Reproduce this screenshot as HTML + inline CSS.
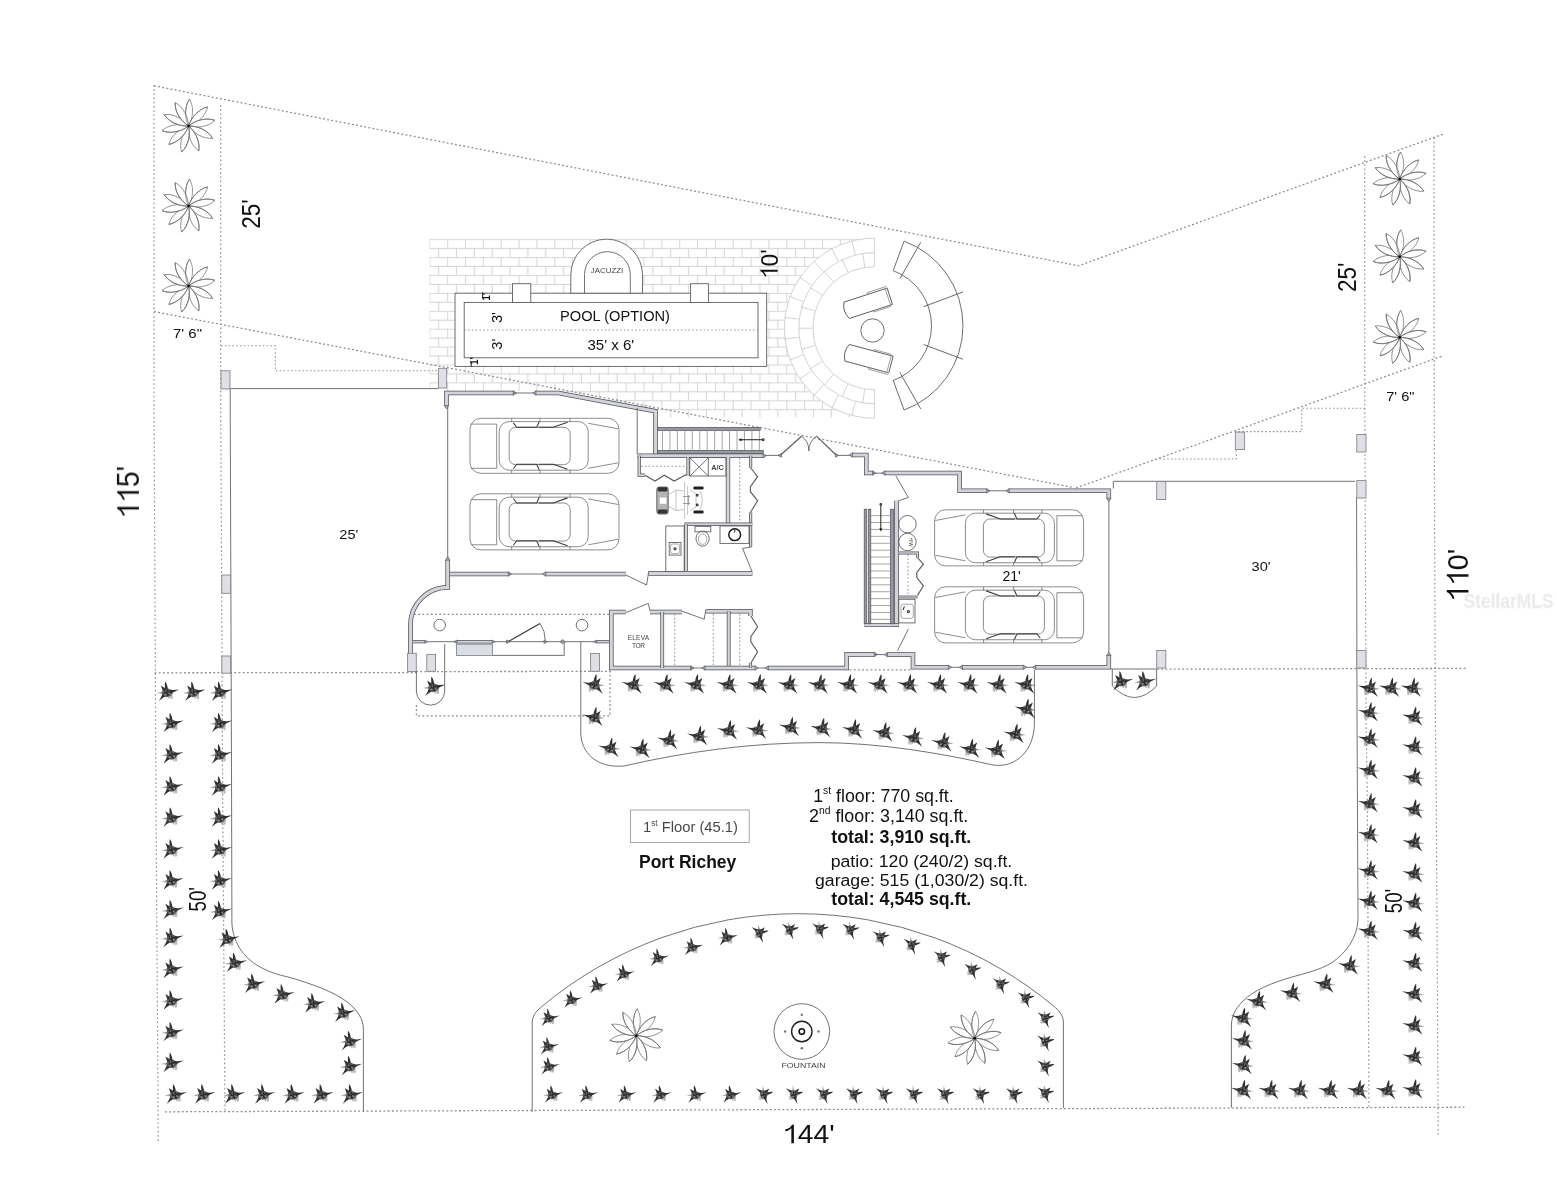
<!DOCTYPE html>
<html><head><meta charset="utf-8"><title>Port Richey - 1st Floor Site Plan</title>
<style>
html,body{margin:0;padding:0;background:#fff;}
body{width:1557px;height:1200px;overflow:hidden;font-family:"Liberation Sans",sans-serif;}
svg{display:block;font-family:"Liberation Sans",sans-serif;}
.dot{fill:none;stroke:#8c8c8c;stroke-width:1.28;stroke-dasharray:1.9 2.3;}
.dotv{fill:none;stroke:#979797;stroke-width:1.2;stroke-dasharray:1.7 2.5;}
.dot2{fill:none;stroke:#939393;stroke-width:1.05;stroke-dasharray:1.6 2.2;}
.ln{fill:none;stroke:#626262;stroke-width:.9;}
.lnw{fill:#fff;stroke:#5e5e5e;stroke-width:.9;}
.lnl{fill:none;stroke:#8f8f8f;stroke-width:.8;}
.lnd{fill:none;stroke:#333;stroke-width:1.1;}
.lnb{fill:none;stroke:#5c5c5c;stroke-width:1.15;}
.car{fill:none;stroke:#707070;stroke-width:.8;}
.carw{fill:#fff;stroke:#707070;stroke-width:.8;}
.card{fill:none;stroke:#3a3a3a;stroke-width:1.05;}
.br{fill:none;stroke:#c6c6c6;stroke-width:.78;}
.wd{fill:none;stroke:#50525a;stroke-linecap:butt;stroke-linejoin:miter;}
.wl{fill:none;stroke:#d2d4da;stroke-linecap:butt;stroke-linejoin:miter;}
.tip{fill:#a9abb2;stroke:#5a5d66;stroke-width:.7;}
.col{fill:#dfe0e6;stroke:#85878f;stroke-width:.9;}
.gf{fill:#dadde4;stroke:#7a7d86;stroke-width:.8;}
.t{fill:#111;}
.tg{fill:#444;}
.tb{fill:#111;font-weight:bold;}
.pet{fill:#fff;stroke:#6c6c6c;stroke-width:.68;}
.white{fill:#fff;stroke:none;}
.rail{fill:#96989f;stroke:#4d4f57;stroke-width:.7;}
.brk{stroke:none;}
</style></head><body>
<svg width="1557" height="1200" viewBox="0 0 1557 1200">
<rect x="0" y="0" width="1557" height="1200" fill="#fff"/>
<g style="filter:blur(.4px)">
<defs>
<g id="pl" opacity=".9">
<path d="M0.9,2.4 L5.8,1.2 L5.6,6 L3.8,6.9 L3.2,4.4 L2.2,6.7 L1,5.6 Z" fill="#a2a2a2" opacity=".85"/>
<path d="M-4.8,-0.9 L-10.3,0.5 L-4.8,1.5 Z" fill="#808080" opacity=".75"/>
<path d="M-3.8,-3.2 L1.4,-3.9 L4.8,-2.2 L5.4,0.9 L3.4,3.7 L-0.6,4.8 L-4.5,3.2 L-5.2,0 Z" fill="#4e4e4e"/>
<path d="M-2,-3.2 C-1.9,-6 -2.5,-8.6 -1.8,-10.9 C-0.4,-9 0.5,-6.4 0.9,-3.4 Z" fill="#1c1c1c"/>
<path d="M-1,-3.7 L-6.2,-6.9 L-4.2,-1.6 Z" fill="#1c1c1c"/>
<path d="M2.6,-2.6 L6.6,-2.3 L12,-3 L7,-0.5 L3.7,1.3 Z" fill="#1c1c1c"/>
<path d="M-4.6,1.6 L-6,4.8 L-8.2,8.7 L-4.7,5.9 L-1.7,4.1 Z" fill="#1c1c1c"/>
<path d="M-2.6,0.4 L2.8,-1 M0.2,-2.6 L0.8,3.2 M-2.6,-2 L1.4,2.4" stroke="#141414" stroke-width="1.3" fill="none" stroke-linecap="round"/>
<path d="M-1.6,-1.4 L-0.8,-0.6 M1.8,0.8 L2.6,1.8 M-2.2,2.2 L-1.2,2" stroke="#d0d0d0" stroke-width=".7" fill="none"/>
</g>
<g id="star"><path d="M0,0 C8,-4.2 19,-5 27,0 C19,5 8,4.2 0,0 Z" class="pet" transform="rotate(-88)"/><path d="M0,0 C8,-4.2 19,-5 27,0 C19,5 8,4.2 0,0 Z" class="pet" transform="rotate(-45)"/><path d="M0,0 C8,-4.2 19,-5 27,0 C19,5 8,4.2 0,0 Z" class="pet" transform="rotate(-12)"/><path d="M0,0 C8,-4.2 19,-5 27,0 C19,5 8,4.2 0,0 Z" class="pet" transform="rotate(27)"/><path d="M0,0 C8,-4.2 19,-5 27,0 C19,5 8,4.2 0,0 Z" class="pet" transform="rotate(68)"/><path d="M0,0 C8,-4.2 19,-5 27,0 C19,5 8,4.2 0,0 Z" class="pet" transform="rotate(105)"/><path d="M0,0 C8,-4.2 19,-5 27,0 C19,5 8,4.2 0,0 Z" class="pet" transform="rotate(137)"/><path d="M0,0 C8,-4.2 19,-5 27,0 C19,5 8,4.2 0,0 Z" class="pet" transform="rotate(170)"/><path d="M0,0 C8,-4.2 19,-5 27,0 C19,5 8,4.2 0,0 Z" class="pet" transform="rotate(-155)"/><path d="M0,0 C8,-4.2 19,-5 27,0 C19,5 8,4.2 0,0 Z" class="pet" transform="rotate(-120)"/><path d="M0,0 C8,-4.2 19,-5 27,0" class="pet" style="fill:none" transform="rotate(-88)"/><path d="M0,0 C8,-4.2 19,-5 27,0" class="pet" style="fill:none" transform="rotate(-45)"/><path d="M0,0 C8,-4.2 19,-5 27,0" class="pet" style="fill:none" transform="rotate(-12)"/><path d="M0,0 C8,-4.2 19,-5 27,0" class="pet" style="fill:none" transform="rotate(27)"/><path d="M0,0 C8,-4.2 19,-5 27,0" class="pet" style="fill:none" transform="rotate(68)"/><path d="M0,0 C8,-4.2 19,-5 27,0" class="pet" style="fill:none" transform="rotate(105)"/><path d="M0,0 C8,-4.2 19,-5 27,0" class="pet" style="fill:none" transform="rotate(137)"/><path d="M0,0 C8,-4.2 19,-5 27,0" class="pet" style="fill:none" transform="rotate(170)"/><path d="M0,0 C8,-4.2 19,-5 27,0" class="pet" style="fill:none" transform="rotate(-155)"/><path d="M0,0 C8,-4.2 19,-5 27,0" class="pet" style="fill:none" transform="rotate(-120)"/><circle cx="0" cy="0" r="1.3" fill="#000"/></g>
<g id="car">
<rect x="0" y="0" width="149" height="55" rx="11" ry="11" class="carw"/>
<path d="M0.8,5.8 H26.7 V50 H0.8" class="car"/>
<rect x="29.2" y="3.3" width="89" height="48.6" rx="10" ry="10" class="car"/>
<rect x="39.2" y="9" width="61" height="37.4" rx="6.5" ry="6.5" class="car"/>
<path d="M118.3,5 L148.3,10.5 M118.3,50 L148.3,44.5" class="car"/>
<path d="M41.7,0 V3.6 M70,0 V3.6 M100,0 V3.6 M41.7,55 V51.4 M70,55 V51.4 M100,55 V51.4" class="car"/>
<path d="M43.3,4.6 L46.7,9 H66.7 L69.2,3.4 M68.6,9 H83.3 L97.5,4" class="card"/>
<path d="M43.3,50.4 L46.7,46 H66.7 L69.2,51.6 M68.6,46 H83.3 L97.5,51" class="card"/>
</g>
<pattern id="brick" x="429.3" y="239.2" width="17.85" height="17.9" patternUnits="userSpaceOnUse">
<path d="M0,0.4 H17.85 M0,9.35 H17.85 M0.4,0 V9.35 M9.3,9.35 V17.9" class="br"/>
</pattern>
<clipPath id="brickclip"><path d="M429.3,238.8 H874.4 V417.6 H657.6 V410 L558,391 H446.6 V388.4 H429.3 Z"/></clipPath>
</defs>
<g clip-path="url(#brickclip)">
<rect x="429.3" y="238.8" width="445.1" height="179" class="brk" fill="url(#brick)"/>
</g>
<path d="M874.4,238.2 A90,90 0 0 0 874.4,418.2 Z" class="white"/>
<path d="M874.4,238.2 A90,90 0 0 0 874.4,418.2" class="br"/>
<path d="M874.4,252.7 A75.5,75.5 0 0 0 874.4,403.7" class="br"/>
<path d="M874.4,266.7 A61.5,61.5 0 0 0 874.4,389.7" class="br"/>
<line x1="874.4" y1="238.2" x2="874.4" y2="266.7" class="br"/>
<line x1="874.4" y1="418.2" x2="874.4" y2="389.7" class="br"/>
<line x1="855.43" y1="401.51" x2="851.96" y2="415.58" class="br"/>
<line x1="838.41" y1="395.05" x2="831.67" y2="407.89" class="br"/>
<line x1="823.43" y1="384.71" x2="813.82" y2="395.57" class="br"/>
<line x1="811.36" y1="371.09" x2="799.43" y2="379.33" class="br"/>
<line x1="802.91" y1="354.97" x2="789.35" y2="360.11" class="br"/>
<line x1="798.55" y1="337.3" x2="784.16" y2="339.05" class="br"/>
<line x1="798.55" y1="319.1" x2="784.16" y2="317.35" class="br"/>
<line x1="802.91" y1="301.43" x2="789.35" y2="296.29" class="br"/>
<line x1="811.36" y1="285.31" x2="799.43" y2="277.07" class="br"/>
<line x1="823.43" y1="271.69" x2="813.82" y2="260.83" class="br"/>
<line x1="838.41" y1="261.35" x2="831.67" y2="248.51" class="br"/>
<line x1="855.43" y1="254.89" x2="851.96" y2="240.82" class="br"/>
<line x1="864.75" y1="389.07" x2="862.76" y2="402.93" class="br"/>
<line x1="847.95" y1="384.14" x2="842.14" y2="396.88" class="br"/>
<line x1="833.23" y1="374.68" x2="824.06" y2="385.26" class="br"/>
<line x1="821.76" y1="361.45" x2="809.99" y2="369.02" class="br"/>
<line x1="814.49" y1="345.53" x2="801.06" y2="349.47" class="br"/>
<line x1="812" y1="328.2" x2="798" y2="328.2" class="br"/>
<line x1="814.49" y1="310.87" x2="801.06" y2="306.93" class="br"/>
<line x1="821.76" y1="294.95" x2="809.99" y2="287.38" class="br"/>
<line x1="833.23" y1="281.72" x2="824.06" y2="271.14" class="br"/>
<line x1="847.95" y1="272.26" x2="842.14" y2="259.52" class="br"/>
<line x1="864.75" y1="267.33" x2="862.76" y2="253.47" class="br"/>
<rect x="455" y="293.2" width="311.7" height="73.2" class="lnw" />
<rect x="464.2" y="302.4" width="293.8" height="55.4" class="lnw" />
<line x1="464.2" y1="330" x2="758" y2="330" class="dot2"/>
<rect x="512.5" y="283.7" width="18.3" height="18.8" class="lnw" />
<rect x="690.6" y="283.7" width="17.8" height="18.8" class="lnw" />
<path d="M570.8,293.2 V275 A35.85,35.85 0 0 1 642.5,275 V293.2 Z" class="lnw"/>
<path d="M584.5,293.2 V274.6 A22.9,22.9 0 0 1 630.3,274.6 V293.2" class="ln"/>
<circle cx="872.5" cy="330.5" r="11.7" class="lnw"/>
<path d="M904.08,241.14 A90,90 0 0 1 904.08,410.06 L893.2,380.5 A58.5,58.5 0 0 0 893.2,270.7 Z" class="lnw"/>
<line x1="899.84" y1="278.74" x2="920.71" y2="242.29" class="lnd" style="stroke-width:.8;stroke:#444"/>
<line x1="923.58" y1="306.69" x2="962.92" y2="291.98" class="lnd" style="stroke-width:.8;stroke:#444"/>
<line x1="923.58" y1="344.51" x2="962.92" y2="359.22" class="lnd" style="stroke-width:.8;stroke:#444"/>
<line x1="899.84" y1="372.46" x2="920.71" y2="408.91" class="lnd" style="stroke-width:.8;stroke:#444"/>
<g transform="translate(866.6,303.8) rotate(-18) scale(1,1)">
<path d="M-21,-8.6 H24.4 V8.6 H-21 Q-25.5,0 -21,-8.6 Z" class="lnw"/>
<path d="M4,-8.6 V-10.4 H24.4 M24.4,-8.6 H22.4 V8.6 M4,8.6 V10 H22.4" class="lnl"/>
</g>
<g transform="translate(867.4,358.2) rotate(15) scale(1,-1)">
<path d="M-21,-8.6 H24.4 V8.6 H-21 Q-25.5,0 -21,-8.6 Z" class="lnw"/>
<path d="M4,-8.6 V-10.4 H24.4 M24.4,-8.6 H22.4 V8.6 M4,8.6 V10 H22.4" class="lnl"/>
</g>
<path d="M154,85.8 L1078.5,265.8 L1443.5,134" class="dot"/>
<path d="M154,311.6 L1073,487.4" class="dot"/>
<path d="M1076,488 L1443,355.8" class="dot"/>
<path d="M154,85 L154,400 L156,800 L158.3,1142" class="dotv"/>
<path d="M220.7,105 L220.7,400 L222.7,800 L225,1111.5" class="dotv"/>
<path d="M1364.7,156 L1364.8,400 L1366,712 L1367.3,800 L1369,1107.4" class="dotv"/>
<path d="M1434,137.5 L1434.2,400 L1435.3,712 L1436.3,800 L1438.2,1137" class="dotv"/>
<path d="M154.5,672.8 L416,672.5" class="dot"/>
<path d="M416,671.6 L611,671.4" class="dot"/>
<path d="M1157,669.2 L1466,668.4" class="dot"/>
<path d="M165,1111.8 L1464.5,1107.2" class="dot"/>
<path d="M221,345.8 L275.3,345.8 L275.3,370.7 L440,370.7" class="dot2"/>
<path d="M1365,408.2 L1301.8,408.2 L1301.8,431.6 L1236.3,431.6 L1236.3,459 L1158,459" class="dot2"/>
<path d="M414,614.3 L609,614.3" class="dot"/>
<path d="M416.4,705 L416.4,715.8 L610,715.8 L610,672" class="dot"/>
<path d="M849.5,669.9 L910.5,669.9" class="dot"/>
<line x1="230.3" y1="388.6" x2="438.3" y2="388.6" class="ln"/>
<path d="M230.2,389 L230.2,400 L231.6,800 L231.9,923.3" class="ln"/>
<line x1="1113.5" y1="481.3" x2="1355" y2="481.3" class="ln"/>
<path d="M1356.6,497 L1357,712 L1358,920" class="ln"/>
<line x1="1111" y1="669" x2="1156.5" y2="669" class="ln"/>
<line x1="447.7" y1="405.5" x2="447.7" y2="560.5" class="ln"/>
<line x1="1108.9" y1="498.5" x2="1108.9" y2="654.5" class="ln"/>
<rect x="221" y="370.8" width="9" height="18.2" class="col" />
<rect x="438.4" y="368.3" width="8.3" height="19.7" class="col" />
<rect x="221.8" y="575" width="8.8" height="18.3" class="col" />
<rect x="221.8" y="656" width="8.8" height="17.2" class="col" />
<rect x="407.6" y="653.3" width="8.7" height="18.2" class="col" />
<rect x="426.8" y="654.4" width="8.7" height="16.9" class="col" />
<rect x="590.6" y="653.4" width="8.9" height="17.9" class="col" />
<rect x="1235.3" y="432.1" width="9.3" height="17.4" class="col" />
<rect x="1356.8" y="434.5" width="9.2" height="17.5" class="col" />
<rect x="1156.7" y="481.6" width="9.1" height="17.9" class="col" />
<rect x="1356.8" y="480.6" width="9.2" height="17.4" class="col" />
<rect x="1156.7" y="650.5" width="9.1" height="17.5" class="col" />
<rect x="1356.8" y="650.5" width="9.2" height="17.5" class="col" />
<line x1="1113.3" y1="481.3" x2="1113.3" y2="488.5" class="ln"/>
<path d="M416.4,671.5 V691 A14.15,14.15 0 0 0 444.7,691 V644.2" class="ln"/>
<path d="M1112.3,669 V686 Q1134.5,709 1156.6,686 V669" class="ln"/>
<path d="M446.5,405.6 L446.5,393 L513.3,393" class="wd" stroke-width="4.6"/>
<path d="M446.5,405.6 L446.5,393 L513.3,393" class="wl" stroke-width="3.1"/>
<polygon points="444.2,405.6 446.5,408.8 448.8,405.6" class="tip"/>
<polygon points="513.3,395.3 516.5,393 513.3,390.7" class="tip"/>
<line x1="513" y1="393" x2="535" y2="393" class="ln"/>
<path d="M536,393 L558.3,393 L655.5,411.2 L655.5,455.8" class="wd" stroke-width="4.6"/>
<path d="M536,393 L558.3,393 L655.5,411.2 L655.5,455.8" class="wl" stroke-width="3.1"/>
<polygon points="536,390.7 532.8,393 536,395.3" class="tip"/>
<line x1="637.2" y1="408" x2="637.2" y2="454" class="ln"/>
<path d="M637.5,455.8 L763,455.8" class="wd" stroke-width="4.4"/>
<path d="M637.5,455.8 L763,455.8" class="wl" stroke-width="2.9"/>
<polygon points="763,458 766.2,455.8 763,453.6" class="tip"/>
<path d="M639.2,455.8 L639.2,475.2 L645,475.2" class="wd" stroke-width="3.2"/>
<path d="M639.2,455.8 L639.2,475.2 L645,475.2" class="wl" stroke-width="1.7"/>
<path d="M688,457 L688,476" class="wd" stroke-width="3.2"/>
<path d="M688,457 L688,476" class="wl" stroke-width="1.7"/>
<path d="M728,457 L728,524" class="wd" stroke-width="4.4"/>
<path d="M728,457 L728,524" class="wl" stroke-width="2.9"/>
<path d="M750.6,455.8 L750.6,467.5" class="wd" stroke-width="3.2"/>
<path d="M750.6,455.8 L750.6,467.5" class="wl" stroke-width="1.7"/>
<path d="M750.6,512.5 L750.6,547" class="wd" stroke-width="3.2"/>
<path d="M750.6,512.5 L750.6,547" class="wl" stroke-width="1.7"/>
<path d="M684.2,524.2 L752.2,524.2" class="wd" stroke-width="3.6"/>
<path d="M684.2,524.2 L752.2,524.2" class="wl" stroke-width="2.1"/>
<path d="M686,524.2 L686,573" class="wd" stroke-width="3.6"/>
<path d="M686,524.2 L686,573" class="wl" stroke-width="2.1"/>
<path d="M447.7,574 L508.3,574" class="wd" stroke-width="4.7"/>
<path d="M447.7,574 L508.3,574" class="wl" stroke-width="3.2"/>
<polygon points="508.3,576.35 511.5,574 508.3,571.65" class="tip"/>
<line x1="508" y1="574" x2="546" y2="574" class="ln"/>
<path d="M545.8,574 L625.8,574" class="wd" stroke-width="4.7"/>
<path d="M545.8,574 L625.8,574" class="wl" stroke-width="3.2"/>
<polygon points="545.8,571.65 542.6,574 545.8,576.35" class="tip"/>
<path d="M648.3,573.4 L752.4,573.4" class="wd" stroke-width="4.7"/>
<path d="M648.3,573.4 L752.4,573.4" class="wl" stroke-width="3.2"/>
<path d="M447.7,560 V587.4 A37.2,37.2 0 0 0 410.5,624.6 V653.3" class="wd" stroke-width="4.7"/>
<path d="M447.7,560 V587.4 A37.2,37.2 0 0 0 410.5,624.6 V653.3" class="wl" stroke-width="3.2"/>
<polygon points="445.5,560.2 447.7,556.6 449.9,560.2" class="tip"/>
<rect x="657.6" y="427.4" width="102.6" height="3" class="rail" />
<rect x="657.6" y="450.4" width="105.6" height="3.2" class="rail" />
<line x1="662.5" y1="430" x2="662.5" y2="450.6" class="lnl"/>
<line x1="669.95" y1="430" x2="669.95" y2="450.6" class="lnl"/>
<line x1="677.4" y1="430" x2="677.4" y2="450.6" class="lnl"/>
<line x1="684.85" y1="430" x2="684.85" y2="450.6" class="lnl"/>
<line x1="692.3" y1="430" x2="692.3" y2="450.6" class="lnl"/>
<line x1="699.75" y1="430" x2="699.75" y2="450.6" class="lnl"/>
<line x1="707.2" y1="430" x2="707.2" y2="450.6" class="lnl"/>
<line x1="714.65" y1="430" x2="714.65" y2="450.6" class="lnl"/>
<line x1="722.1" y1="430" x2="722.1" y2="450.6" class="lnl"/>
<line x1="729.55" y1="430" x2="729.55" y2="450.6" class="lnl"/>
<line x1="737" y1="430" x2="737" y2="450.6" class="lnl"/>
<line x1="744.45" y1="430" x2="744.45" y2="450.6" class="lnl"/>
<line x1="751.9" y1="430" x2="751.9" y2="450.6" class="lnl"/>
<line x1="759.35" y1="430" x2="759.35" y2="450.6" class="lnl"/>
<line x1="739" y1="439.7" x2="762.5" y2="439.7" class="lnd"/>
<polygon points="738.4,439.7 741.6,438.2 741.6,441.2" fill="#222"/>
<circle cx="763.2" cy="439.7" r="0.9" class="lnd"/>
<path d="M645,475.2 L655,481 L664.2,475.2 L674.2,481 L686.4,474.4" class="lnb"/>
<line x1="641" y1="466.3" x2="686.5" y2="466.3" class="dot2"/>
<rect x="689.8" y="457.6" width="36.2" height="18.4" class="ln" />
<line x1="708.3" y1="457.6" x2="708.3" y2="476" class="ln"/>
<line x1="690" y1="457.8" x2="708.3" y2="476" class="ln"/>
<line x1="708.3" y1="457.8" x2="690" y2="476" class="ln"/>
<text x="711.2" y="469.6" font-size="7" class="tg" text-anchor="start" textLength="12.6" lengthAdjust="spacingAndGlyphs" style="font-weight:bold">A/C</text>
<path d="M750.4,467.5 L757.6,476.7 L750.4,486.7 L750.4,491.7 L757.6,500.8 L750.4,512.5" class="lnb"/>
<line x1="739.7" y1="458" x2="739.7" y2="522.4" class="dot2"/>
<rect x="665.8" y="526" width="18.4" height="45.5" class="ln" />
<rect x="669.2" y="542.5" width="11.8" height="12.6" class="ln" />
<rect x="670.6" y="544" width="9" height="9.6" class="lnl" rx="2"/>
<circle cx="675" cy="548.8" r="1" class="lnd"/>
<rect x="695" y="526.4" width="15.8" height="5.4" class="ln" />
<ellipse cx="702.6" cy="538.6" rx="6.6" ry="7.6" class="ln"/>
<ellipse cx="702.6" cy="539.2" rx="4.2" ry="5.2" class="lnl"/>
<rect x="720" y="526" width="29" height="17.4" class="ln" />
<circle cx="734.7" cy="534.7" r="5.9" fill="none" stroke="#1c1c1c" stroke-width="1.5"/>
<line x1="734.7" y1="529.5" x2="734.7" y2="532.4" class="lnd"/>
<path d="M751.6,547 L742.6,548.4 L751.8,571" class="ln"/>
<path d="M625.8,575 L646.6,585 L648.6,572" class="ln"/>
<rect x="656.8" y="487" width="11.4" height="27" rx="2.4" fill="#b4b4b4" stroke="#555" stroke-width=".9"/>
<rect x="657.8" y="487.2" width="9.6" height="4.2" rx="1.2" fill="#333"/>
<rect x="657.8" y="509.4" width="9.6" height="4.2" rx="1.2" fill="#333"/>
<rect x="659.8" y="497.6" width="6.6" height="6.2" fill="#fff"/>
<rect x="693.4" y="486.6" width="10.2" height="2.9" rx="1.2" fill="#222"/>
<rect x="693.4" y="510.5" width="10.2" height="2.9" rx="1.2" fill="#222"/>
<path d="M668.4,495 L676,490 L684,491 M668.4,506 L676,510.6 L684,509.6 M676,490 V510.6 M684.6,482 V519 M687.6,486 V515 M690,490 L696,494 V507 L690,511 M700,491 Q704.4,500 700,509.6" class="lnl" style="stroke:#b4b4b4"/>
<path d="M683,496.5 H690 M683,503.5 H690 M688.6,495 V505" class="lnl" style="stroke:#888"/>
<circle cx="697.2" cy="495.3" r="0.9" class="lnd"/>
<circle cx="697.2" cy="505" r="0.9" class="lnd"/>
<line x1="412.5" y1="641.7" x2="609" y2="641.7" class="ln"/>
<path d="M412.5,641.7 L424.6,641.7" class="wd" stroke-width="3.2"/>
<path d="M412.5,641.7 L424.6,641.7" class="wl" stroke-width="1.7"/>
<polygon points="424.6,643.3 427.8,641.7 424.6,640.1" class="tip"/>
<path d="M457,641.7 L492,641.7" class="wd" stroke-width="3.4"/>
<path d="M457,641.7 L492,641.7" class="wl" stroke-width="1.9"/>
<polygon points="457,640 453.8,641.7 457,643.4" class="tip"/>
<polygon points="492,643.4 495.2,641.7 492,640" class="tip"/>
<path d="M596.6,641.7 L609.4,641.7" class="wd" stroke-width="3.2"/>
<path d="M596.6,641.7 L609.4,641.7" class="wl" stroke-width="1.7"/>
<polygon points="596.6,640.1 593.4,641.7 596.6,643.3" class="tip"/>
<rect x="456.4" y="644.2" width="36.2" height="11.2" class="gf" />
<path d="M492.6,655.4 L564.2,655.4 L564.2,641.7" class="ln"/>
<line x1="508" y1="641.7" x2="540" y2="623.4" class="lnd"/>
<path d="M540,623.4 Q545.4,631 545.2,640.4" class="ln"/>
<polygon points="506.6,640 506.6,643.4 510,641.7" class="tip" style="fill:#999"/>
<polygon points="544,640 544,643.4 547.4,641.7" class="tip" style="fill:#999"/>
<polygon points="560,641.7 562.6,639.6 565.2,641.7 562.6,643.8" class="tip" style="fill:#999"/>
<circle cx="439.7" cy="625.1" r="5.8" class="ln"/>
<circle cx="582" cy="625.1" r="5.8" class="ln"/>
<line x1="580.8" y1="641.7" x2="580.8" y2="733" class="ln"/>
<path d="M625.8,612 L611.3,612 L611.3,668 L690.8,668" class="wd" stroke-width="4.6"/>
<path d="M625.8,612 L611.3,612 L611.3,668 L690.8,668" class="wl" stroke-width="3.1"/>
<polygon points="690.8,670.3 694,668 690.8,665.7" class="tip"/>
<path d="M650,612 L681.7,612" class="wd" stroke-width="4.6"/>
<path d="M650,612 L681.7,612" class="wl" stroke-width="3.1"/>
<path d="M705.8,611.3 L750.5,611.3 L750.5,616" class="wd" stroke-width="4.4"/>
<path d="M705.8,611.3 L750.5,611.3 L750.5,616" class="wl" stroke-width="2.9"/>
<path d="M662.2,612 L662.2,668" class="wd" stroke-width="3.8"/>
<path d="M662.2,612 L662.2,668" class="wl" stroke-width="2.3"/>
<path d="M728.7,611.3 L728.7,668" class="wd" stroke-width="3.8"/>
<path d="M728.7,611.3 L728.7,668" class="wl" stroke-width="2.3"/>
<line x1="690" y1="668" x2="706" y2="668" class="ln"/>
<path d="M705,668 L755,668" class="wd" stroke-width="4.6"/>
<path d="M705,668 L755,668" class="wl" stroke-width="3.1"/>
<polygon points="705,665.7 701.8,668 705,670.3" class="tip"/>
<polygon points="755,670.3 758.2,668 755,665.7" class="tip"/>
<path d="M750.5,663 L750.5,668" class="wd" stroke-width="3.2"/>
<path d="M750.5,663 L750.5,668" class="wl" stroke-width="1.7"/>
<line x1="757" y1="668" x2="769" y2="668" class="ln"/>
<path d="M768.3,668 L846.7,668 L846.7,654.4 L874.2,654.4" class="wd" stroke-width="4.6"/>
<path d="M768.3,668 L846.7,668 L846.7,654.4 L874.2,654.4" class="wl" stroke-width="3.1"/>
<polygon points="768.3,665.7 765.1,668 768.3,670.3" class="tip"/>
<polygon points="874.2,656.7 877.4,654.4 874.2,652.1" class="tip"/>
<path d="M625.8,612.6 L648.3,603.4 L650,610.8" class="ln"/>
<path d="M681.7,611 L704.2,619.2 L705.8,610" class="ln"/>
<line x1="674.7" y1="614" x2="674.7" y2="666" class="dot2"/>
<line x1="713.3" y1="614" x2="713.3" y2="666" class="dot2"/>
<line x1="739.7" y1="614" x2="739.7" y2="666" class="dot2"/>
<path d="M750.8,616 L757.6,626.7 L750.8,636.7 L750.8,641.7 L757.6,651.7 L750.8,663.3" class="lnb"/>
<text x="638.4" y="640.2" font-size="6.6" class="tg" text-anchor="middle" textLength="21.5" lengthAdjust="spacing">ELEVA</text>
<text x="638.4" y="648" font-size="6.6" class="tg" text-anchor="middle" textLength="13" lengthAdjust="spacing">TOR</text>
<line x1="874" y1="654.6" x2="888" y2="654.6" class="ln"/>
<path d="M887.5,654.6 L913,654.6 L913,667.3 L948.3,667.3" class="wd" stroke-width="4.6"/>
<path d="M887.5,654.6 L913,654.6 L913,667.3 L948.3,667.3" class="wl" stroke-width="3.1"/>
<polygon points="887.5,652.3 884.3,654.6 887.5,656.9" class="tip"/>
<polygon points="948.3,669.6 951.5,667.3 948.3,665" class="tip"/>
<line x1="950" y1="667.3" x2="963" y2="667.3" class="ln"/>
<path d="M962.5,667.3 L1023.3,667.3" class="wd" stroke-width="4.6"/>
<path d="M962.5,667.3 L1023.3,667.3" class="wl" stroke-width="3.1"/>
<polygon points="962.5,665 959.3,667.3 962.5,669.6" class="tip"/>
<polygon points="1023.3,669.6 1026.5,667.3 1023.3,665" class="tip"/>
<line x1="1025" y1="667.3" x2="1036" y2="667.3" class="ln"/>
<path d="M1035.8,667.3 L1108.8,667.3 L1108.8,655.5" class="wd" stroke-width="4.6"/>
<path d="M1035.8,667.3 L1108.8,667.3 L1108.8,655.5" class="wl" stroke-width="3.1"/>
<polygon points="1035.8,665 1032.6,667.3 1035.8,669.6" class="tip"/>
<polygon points="1111.1,655.5 1108.8,652.3 1106.5,655.5" class="tip"/>
<line x1="765" y1="455.4" x2="780" y2="455.4" class="ln"/>
<line x1="838" y1="455.4" x2="853" y2="455.4" class="ln"/>
<path d="M852.5,455 L866.3,455 L866.3,473 L872.5,473" class="wd" stroke-width="4.6"/>
<path d="M852.5,455 L866.3,455 L866.3,473 L872.5,473" class="wl" stroke-width="3.1"/>
<polygon points="852.5,452.7 849.3,455 852.5,457.3" class="tip"/>
<polygon points="872.5,475.3 875.7,473 872.5,470.7" class="tip"/>
<line x1="873" y1="473.2" x2="886" y2="473.2" class="ln"/>
<path d="M885,473 L959.6,473 L959.6,490.8 L986.7,490.8" class="wd" stroke-width="4.6"/>
<path d="M885,473 L959.6,473 L959.6,490.8 L986.7,490.8" class="wl" stroke-width="3.1"/>
<polygon points="885,470.7 881.8,473 885,475.3" class="tip"/>
<polygon points="986.7,493.1 989.9,490.8 986.7,488.5" class="tip"/>
<line x1="988" y1="490.8" x2="1010" y2="490.8" class="ln"/>
<path d="M1009.2,490.8 L1108.8,490.8 L1108.8,498.3" class="wd" stroke-width="4.6"/>
<path d="M1009.2,490.8 L1108.8,490.8 L1108.8,498.3" class="wl" stroke-width="3.1"/>
<polygon points="1009.2,488.5 1006,490.8 1009.2,493.1" class="tip"/>
<polygon points="1106.5,498.3 1108.8,501.5 1111.1,498.3" class="tip"/>
<line x1="780.6" y1="455" x2="801.6" y2="436.2" class="lnb"/>
<line x1="836.2" y1="455" x2="816.4" y2="436.2" class="lnb"/>
<path d="M801.6,436.2 Q809,441.4 808.9,451 Q808.8,441.4 816.4,436.2" class="ln"/>
<polygon points="778,455.4 781.4,453.4 781.4,457.2" class="tip" style="fill:#999"/>
<polygon points="838.7,455.4 835.4,453.4 835.4,457.2" class="tip" style="fill:#999"/>
<path d="M896.5,500.8 L896.5,627" class="wd" stroke-width="4.6"/>
<path d="M896.5,500.8 L896.5,627" class="wl" stroke-width="3.1"/>
<path d="M864.2,625 L898.6,625" class="wd" stroke-width="3.6"/>
<path d="M864.2,625 L898.6,625" class="wl" stroke-width="2.1"/>
<path d="M895.8,475.8 L908.3,497.5 L898.3,500.8" class="ln"/>
<path d="M908.3,629.2 L897.5,650.8" class="ln"/>
<rect x="864.2" y="509.2" width="2.6" height="114.6" class="rail" />
<rect x="868.6" y="509.2" width="2.2" height="114.6" class="rail" />
<rect x="890.4" y="509.2" width="3.6" height="114.6" class="rail" />
<line x1="870.8" y1="515.6" x2="890.4" y2="515.6" class="lnl"/>
<line x1="870.8" y1="522.52" x2="890.4" y2="522.52" class="lnl"/>
<line x1="870.8" y1="529.44" x2="890.4" y2="529.44" class="lnl"/>
<line x1="870.8" y1="536.36" x2="890.4" y2="536.36" class="lnl"/>
<line x1="870.8" y1="543.28" x2="890.4" y2="543.28" class="lnl"/>
<line x1="870.8" y1="550.2" x2="890.4" y2="550.2" class="lnl"/>
<line x1="870.8" y1="557.12" x2="890.4" y2="557.12" class="lnl"/>
<line x1="870.8" y1="564.04" x2="890.4" y2="564.04" class="lnl"/>
<line x1="870.8" y1="570.96" x2="890.4" y2="570.96" class="lnl"/>
<line x1="870.8" y1="577.88" x2="890.4" y2="577.88" class="lnl"/>
<line x1="870.8" y1="584.8" x2="890.4" y2="584.8" class="lnl"/>
<line x1="870.8" y1="591.72" x2="890.4" y2="591.72" class="lnl"/>
<line x1="870.8" y1="598.64" x2="890.4" y2="598.64" class="lnl"/>
<line x1="870.8" y1="605.56" x2="890.4" y2="605.56" class="lnl"/>
<line x1="870.8" y1="612.48" x2="890.4" y2="612.48" class="lnl"/>
<line x1="870.8" y1="619.4" x2="890.4" y2="619.4" class="lnl"/>
<line x1="880.8" y1="505" x2="880.8" y2="530.5" class="lnd"/>
<polygon points="880.8,531.6 879.3,528.2 882.3,528.2" fill="#222"/>
<circle cx="880.8" cy="504.4" r="0.8" class="lnd"/>
<circle cx="907.5" cy="524.2" r="8.7" class="ln"/>
<circle cx="907.5" cy="542" r="8.7" class="ln"/>
<text transform="translate(909.4,542) rotate(90)" x="0" y="0" font-size="4.6" class="tg" text-anchor="middle">H/W</text>
<path d="M898.6,553 L917.5,553 L917.5,557.6" class="wd" stroke-width="2.8"/>
<path d="M898.6,553 L917.5,553 L917.5,557.6" class="wl" stroke-width="1.3"/>
<path d="M898.6,597 L917.5,597" class="wd" stroke-width="2.8"/>
<path d="M898.6,597 L917.5,597" class="wl" stroke-width="1.3"/>
<path d="M917.5,557.6 L923.4,564.2 L916.8,572.5 L916.8,577.5 L923.4,585.8 L917.5,595.4" class="lnb"/>
<line x1="908" y1="554.6" x2="908" y2="596" class="dot2"/>
<rect x="898.8" y="599.3" width="16.2" height="23.6" class="ln" />
<rect x="901" y="604.2" width="12.3" height="14.2" class="lnl" rx="2.5"/>
<circle cx="908.4" cy="611.6" r="1.1" class="lnd"/>
<line x1="904.4" y1="606.4" x2="903" y2="610" class="lnd"/>
<use href="#car" x="0" y="0" transform="translate(470,418.3)"/>
<use href="#car" x="0" y="0" transform="translate(470,493.8) scale(1,1.02)"/>
<use href="#car" x="0" y="0" transform="translate(1083.6,509.8) scale(-1,1.02)"/>
<use href="#car" x="0" y="0" transform="translate(1083.6,586.8) scale(-1,1.02)"/>
<path d="M231.9,923 C233,945 246,960 262,968 C276,975.5 287,976 300,980.5 C318,986.5 340,994 353,1007 C361,1015.5 363.4,1022 363.4,1030 V1111.4" class="ln"/>
<path d="M1358,920 C1357,938 1346,953 1332,962.6 C1320,970 1306,973 1290,977.6 C1272,983 1254,990 1243,1001 C1234,1010 1231.4,1018 1231.4,1026 V1107.6" class="ln"/>
<path d="M580.8,733 C581,752 596,768.5 624,766 C685,752 750,742.6 820,742.6 C880,742.8 940,753 993,765 C1017,768.5 1034.4,749 1034.4,723.4 V670" class="ln"/>
<path d="M532.2,1111.6 V1022 Q532.2,1014.6 540.5,1007.6 A400,400 0 0 1 1055.5,1007.6 Q1063.4,1014.6 1063.4,1022 V1107.9" class="ln"/>
<circle cx="801.8" cy="1031.5" r="27.8" class="ln"/>
<circle cx="801.8" cy="1031.5" r="10.2" fill="none" stroke="#222" stroke-width="1.4"/>
<circle cx="801.8" cy="1031.5" r="2.7" fill="none" stroke="#111" stroke-width="1.6"/>
<circle cx="818.5" cy="1031.5" r="1.25" fill="#777"/>
<circle cx="785.1" cy="1031.5" r="1.25" fill="#777"/>
<circle cx="801.8" cy="1048.2" r="1.25" fill="#777"/>
<circle cx="801.8" cy="1014.8" r="1.25" fill="#777"/>
<text x="781.4" y="1067.8" font-size="7.6" class="tg" text-anchor="start" textLength="44.2" lengthAdjust="spacingAndGlyphs" >FOUNTAIN</text>
<use href="#star" transform="translate(188.6,126)"/>
<use href="#star" transform="translate(188.6,206)"/>
<use href="#star" transform="translate(188.6,286)"/>
<use href="#star" transform="translate(1399.7,179)"/>
<use href="#star" transform="translate(1399.7,256.8)"/>
<use href="#star" transform="translate(1399.7,337.4)"/>
<use href="#star" transform="translate(636.3,1035.7)"/>
<use href="#star" transform="translate(974.7,1038.3)"/>
<use href="#pl" transform="translate(167,692.4) scale(1)"/>
<use href="#pl" transform="translate(193.3,692.4) scale(1)"/>
<use href="#pl" transform="translate(220,692.4) scale(1)"/>
<use href="#pl" transform="translate(171.6,723.6) scale(1)"/>
<use href="#pl" transform="translate(171.6,755) scale(1)"/>
<use href="#pl" transform="translate(171.6,787) scale(1)"/>
<use href="#pl" transform="translate(171.6,818.2) scale(1)"/>
<use href="#pl" transform="translate(171.6,850) scale(1)"/>
<use href="#pl" transform="translate(171.6,881) scale(1)"/>
<use href="#pl" transform="translate(171.6,910.6) scale(1)"/>
<use href="#pl" transform="translate(171.6,938.5) scale(1)"/>
<use href="#pl" transform="translate(171.6,969.5) scale(1)"/>
<use href="#pl" transform="translate(171.6,1001) scale(1)"/>
<use href="#pl" transform="translate(171.6,1032.6) scale(1)"/>
<use href="#pl" transform="translate(171.6,1063.5) scale(1)"/>
<use href="#pl" transform="translate(220,723.6) scale(1)"/>
<use href="#pl" transform="translate(220,755) scale(1)"/>
<use href="#pl" transform="translate(220,787) scale(1)"/>
<use href="#pl" transform="translate(220,818.2) scale(1)"/>
<use href="#pl" transform="translate(220,850) scale(1)"/>
<use href="#pl" transform="translate(220,881) scale(1)"/>
<use href="#pl" transform="translate(220,911.6) scale(1)"/>
<use href="#pl" transform="translate(227.7,939.3) scale(1)"/>
<use href="#pl" transform="translate(235,963.3) scale(1)"/>
<use href="#pl" transform="translate(253.3,984.3) scale(1)"/>
<use href="#pl" transform="translate(282.7,995) scale(1)"/>
<use href="#pl" transform="translate(313.3,1004) scale(1)"/>
<use href="#pl" transform="translate(343.3,1013.3) scale(1)"/>
<use href="#pl" transform="translate(350,1041.7) scale(1)"/>
<use href="#pl" transform="translate(350,1066.7) scale(1)"/>
<use href="#pl" transform="translate(175,1095) scale(1)"/>
<use href="#pl" transform="translate(203.3,1095) scale(1)"/>
<use href="#pl" transform="translate(233.3,1095) scale(1)"/>
<use href="#pl" transform="translate(263.3,1095) scale(1)"/>
<use href="#pl" transform="translate(292.7,1095) scale(1)"/>
<use href="#pl" transform="translate(321.7,1095) scale(1)"/>
<use href="#pl" transform="translate(351,1095) scale(1)"/>
<use href="#pl" transform="translate(433.3,687.4) scale(1)"/>
<use href="#pl" transform="translate(1121.4,681.8) scale(1)"/>
<use href="#pl" transform="translate(1144.3,681.8) scale(1)"/>
<use href="#pl" transform="translate(594.5,685) scale(-1,1)"/>
<use href="#pl" transform="translate(633.5,685) scale(-1,1)"/>
<use href="#pl" transform="translate(665.5,685) scale(-1,1)"/>
<use href="#pl" transform="translate(696,685) scale(-1,1)"/>
<use href="#pl" transform="translate(728.4,685) scale(-1,1)"/>
<use href="#pl" transform="translate(758.8,685) scale(-1,1)"/>
<use href="#pl" transform="translate(789.2,685) scale(-1,1)"/>
<use href="#pl" transform="translate(819.6,685) scale(-1,1)"/>
<use href="#pl" transform="translate(849,685) scale(-1,1)"/>
<use href="#pl" transform="translate(879.5,685) scale(-1,1)"/>
<use href="#pl" transform="translate(909,685) scale(-1,1)"/>
<use href="#pl" transform="translate(939,685) scale(-1,1)"/>
<use href="#pl" transform="translate(969.3,685) scale(-1,1)"/>
<use href="#pl" transform="translate(998.5,685) scale(-1,1)"/>
<use href="#pl" transform="translate(1026.2,685) scale(-1,1)"/>
<use href="#pl" transform="translate(594.5,717.6) scale(-1,1)"/>
<use href="#pl" transform="translate(610.3,748.5) scale(-1,1)"/>
<use href="#pl" transform="translate(641.5,749.5) scale(-1,1)"/>
<use href="#pl" transform="translate(669,740.5) scale(-1,1)"/>
<use href="#pl" transform="translate(699,736.5) scale(-1,1)"/>
<use href="#pl" transform="translate(728.9,731) scale(-1,1)"/>
<use href="#pl" transform="translate(758,730.2) scale(-1,1)"/>
<use href="#pl" transform="translate(790.9,727.6) scale(-1,1)"/>
<use href="#pl" transform="translate(822.2,728.7) scale(-1,1)"/>
<use href="#pl" transform="translate(854,730) scale(-1,1)"/>
<use href="#pl" transform="translate(884.3,733) scale(-1,1)"/>
<use href="#pl" transform="translate(914,738) scale(-1,1)"/>
<use href="#pl" transform="translate(943.3,743) scale(-1,1)"/>
<use href="#pl" transform="translate(971,749.3) scale(-1,1)"/>
<use href="#pl" transform="translate(996.8,750.5) scale(-1,1)"/>
<use href="#pl" transform="translate(1015.5,734.5) scale(-1,1)"/>
<use href="#pl" transform="translate(1026.6,709.5) scale(-1,1)"/>
<use href="#pl" transform="translate(1369.8,688.4) scale(-1,1)"/>
<use href="#pl" transform="translate(1391,688.4) scale(-1,1)"/>
<use href="#pl" transform="translate(1412.8,688.4) scale(-1,1)"/>
<use href="#pl" transform="translate(1369.6,712.8) scale(-1,1)"/>
<use href="#pl" transform="translate(1369.6,739.4) scale(-1,1)"/>
<use href="#pl" transform="translate(1369.6,770.5) scale(-1,1)"/>
<use href="#pl" transform="translate(1369.6,803.8) scale(-1,1)"/>
<use href="#pl" transform="translate(1369.6,834.8) scale(-1,1)"/>
<use href="#pl" transform="translate(1369.6,871.2) scale(-1,1)"/>
<use href="#pl" transform="translate(1369.6,901.4) scale(-1,1)"/>
<use href="#pl" transform="translate(1369.6,931.4) scale(-1,1)"/>
<use href="#pl" transform="translate(1349.7,966) scale(-1,1)"/>
<use href="#pl" transform="translate(1325.3,984.3) scale(-1,1)"/>
<use href="#pl" transform="translate(1292,993.3) scale(-1,1)"/>
<use href="#pl" transform="translate(1258,1001.7) scale(-1,1)"/>
<use href="#pl" transform="translate(1243,1018.3) scale(-1,1)"/>
<use href="#pl" transform="translate(1243.7,1041) scale(-1,1)"/>
<use href="#pl" transform="translate(1243.7,1065.7) scale(-1,1)"/>
<use href="#pl" transform="translate(1414.2,717.4) scale(-1,1)"/>
<use href="#pl" transform="translate(1414.2,747.2) scale(-1,1)"/>
<use href="#pl" transform="translate(1414.2,778) scale(-1,1)"/>
<use href="#pl" transform="translate(1414.2,810) scale(-1,1)"/>
<use href="#pl" transform="translate(1414.2,843) scale(-1,1)"/>
<use href="#pl" transform="translate(1414.2,874) scale(-1,1)"/>
<use href="#pl" transform="translate(1414.2,903.3) scale(-1,1)"/>
<use href="#pl" transform="translate(1414.2,932.7) scale(-1,1)"/>
<use href="#pl" transform="translate(1414.2,963.3) scale(-1,1)"/>
<use href="#pl" transform="translate(1414.2,994.3) scale(-1,1)"/>
<use href="#pl" transform="translate(1414.2,1026) scale(-1,1)"/>
<use href="#pl" transform="translate(1414.2,1057.3) scale(-1,1)"/>
<use href="#pl" transform="translate(1414.2,1090) scale(-1,1)"/>
<use href="#pl" transform="translate(1243,1090.7) scale(-1,1)"/>
<use href="#pl" transform="translate(1270.3,1090.7) scale(-1,1)"/>
<use href="#pl" transform="translate(1299.7,1090.7) scale(-1,1)"/>
<use href="#pl" transform="translate(1329.7,1090.7) scale(-1,1)"/>
<use href="#pl" transform="translate(1358.7,1090.7) scale(-1,1)"/>
<use href="#pl" transform="translate(1387.3,1090.7) scale(-1,1)"/>
<use href="#pl" transform="translate(552.3,1095) scale(0.9)"/>
<use href="#pl" transform="translate(587.3,1095) scale(0.9)"/>
<use href="#pl" transform="translate(625.7,1095) scale(0.9)"/>
<use href="#pl" transform="translate(660.7,1095) scale(0.9)"/>
<use href="#pl" transform="translate(695.7,1095) scale(0.9)"/>
<use href="#pl" transform="translate(730.7,1095) scale(0.9)"/>
<use href="#pl" transform="translate(764,1094.4) rotate(84) scale(0.85)"/>
<use href="#pl" transform="translate(794,1094.4) rotate(84) scale(0.85)"/>
<use href="#pl" transform="translate(824,1094.4) rotate(84) scale(0.85)"/>
<use href="#pl" transform="translate(854,1094.4) rotate(84) scale(0.85)"/>
<use href="#pl" transform="translate(884,1094.4) rotate(84) scale(0.85)"/>
<use href="#pl" transform="translate(914,1094.4) rotate(84) scale(0.85)"/>
<use href="#pl" transform="translate(945,1094.4) rotate(84) scale(0.85)"/>
<use href="#pl" transform="translate(980.7,1094.4) rotate(84) scale(0.85)"/>
<use href="#pl" transform="translate(1014,1094.4) rotate(84) scale(0.85)"/>
<use href="#pl" transform="translate(549,1018.3) scale(0.9)"/>
<use href="#pl" transform="translate(548.3,1046.7) scale(0.9)"/>
<use href="#pl" transform="translate(549,1066.7) scale(0.9)"/>
<use href="#pl" transform="translate(571.7,1000) scale(0.9)"/>
<use href="#pl" transform="translate(597.3,986) scale(0.9)"/>
<use href="#pl" transform="translate(624,974) scale(0.9)"/>
<use href="#pl" transform="translate(658.3,958.3) scale(0.9)"/>
<use href="#pl" transform="translate(692.3,947.4) scale(0.9)"/>
<use href="#pl" transform="translate(727,937.6) scale(0.9)"/>
<use href="#pl" transform="translate(759.6,933.1) rotate(84) scale(0.85)"/>
<use href="#pl" transform="translate(789.8,929.9) rotate(84) scale(0.85)"/>
<use href="#pl" transform="translate(820,929.3) rotate(84) scale(0.85)"/>
<use href="#pl" transform="translate(850.5,930) rotate(84) scale(0.85)"/>
<use href="#pl" transform="translate(880.7,937.3) rotate(84) scale(0.85)"/>
<use href="#pl" transform="translate(911.7,945) rotate(84) scale(0.85)"/>
<use href="#pl" transform="translate(941.7,957.3) rotate(84) scale(0.85)"/>
<use href="#pl" transform="translate(972.3,970) rotate(84) scale(0.85)"/>
<use href="#pl" transform="translate(1000.7,984.3) rotate(84) scale(0.85)"/>
<use href="#pl" transform="translate(1025.7,998.3) rotate(84) scale(0.85)"/>
<use href="#pl" transform="translate(1045.3,1018.3) rotate(84) scale(0.85)"/>
<use href="#pl" transform="translate(1045.3,1041.7) rotate(84) scale(0.85)"/>
<use href="#pl" transform="translate(1045.3,1066.7) rotate(84) scale(0.85)"/>
<use href="#pl" transform="translate(1045.3,1093.3) rotate(84) scale(0.85)"/>
<text transform="translate(250.7,214) rotate(-90)" x="-14.65" y="9.13" font-size="25.5" class="t" textLength="29.3" lengthAdjust="spacingAndGlyphs">25'</text>
<text transform="translate(1347.3,277.3) rotate(-90)" x="-14.65" y="9.13" font-size="25.5" class="t" textLength="29.3" lengthAdjust="spacingAndGlyphs">25'</text>
<g transform="translate(769,264.3) rotate(-90) translate(0,8.59) scale(0.95,1)"><path d="M.418,0 L.418,-.716 L.350,-.716 C.318,-.63 .23,-.56 .112,-.528 L.112,-.462 C.20,-.48 .28,-.525 .328,-.582 L.328,0 Z" transform="translate(-15.64,0) scale(24)" fill="#111"/><text x="-2.29" y="0" font-size="24" class="t">0</text><text x="11.05" y="0" font-size="24" class="t">'</text></g>
<g transform="translate(128,492.4) rotate(-90) translate(0,10.92) scale(0.93,1)"><path d="M.418,0 L.418,-.716 L.350,-.716 C.318,-.63 .23,-.56 .112,-.528 L.112,-.462 C.20,-.48 .28,-.525 .328,-.582 L.328,0 Z" transform="translate(-28.35,0) scale(30.5)" fill="#111"/><path d="M.418,0 L.418,-.716 L.350,-.716 C.318,-.63 .23,-.56 .112,-.528 L.112,-.462 C.20,-.48 .28,-.525 .328,-.582 L.328,0 Z" transform="translate(-11.39,0) scale(30.5)" fill="#111"/><text x="5.57" y="0" font-size="30.5" class="t">5</text><text x="22.52" y="0" font-size="30.5" class="t">'</text></g>
<g transform="translate(1457.6,575.4) rotate(-90) translate(0,10.85) scale(0.94,1)"><path d="M.418,0 L.418,-.716 L.350,-.716 C.318,-.63 .23,-.56 .112,-.528 L.112,-.462 C.20,-.48 .28,-.525 .328,-.582 L.328,0 Z" transform="translate(-28.16,0) scale(30.3)" fill="#111"/><path d="M.418,0 L.418,-.716 L.350,-.716 C.318,-.63 .23,-.56 .112,-.528 L.112,-.462 C.20,-.48 .28,-.525 .328,-.582 L.328,0 Z" transform="translate(-11.32,0) scale(30.3)" fill="#111"/><text x="5.53" y="0" font-size="30.3" class="t">0</text><text x="22.38" y="0" font-size="30.3" class="t">'</text></g>
<text transform="translate(197.7,899.3) rotate(-90)" x="-12.15" y="8.41" font-size="23.5" class="t" textLength="24.3" lengthAdjust="spacingAndGlyphs">50'</text>
<text transform="translate(1393.7,901) rotate(-90)" x="-12.15" y="8.41" font-size="23.5" class="t" textLength="24.3" lengthAdjust="spacingAndGlyphs">50'</text>
<g transform="translate(808.4,1143.3) scale(1.09,1)"><path d="M.418,0 L.418,-.716 L.350,-.716 C.318,-.63 .23,-.56 .112,-.528 L.112,-.462 C.20,-.48 .28,-.525 .328,-.582 L.328,0 Z" transform="translate(-24.17,0) scale(26)" fill="#111"/><text x="-9.71" y="0" font-size="26" class="t">4</text><text x="4.75" y="0" font-size="26" class="t">4</text><text x="19.2" y="0" font-size="26" class="t">'</text></g>
<text x="173" y="338.2" font-size="13.2" class="t" text-anchor="start" textLength="29" lengthAdjust="spacingAndGlyphs" >7' 6"</text>
<text x="1386.2" y="401.2" font-size="13.2" class="t" text-anchor="start" textLength="28.4" lengthAdjust="spacingAndGlyphs" >7' 6"</text>
<text x="339.3" y="539" font-size="13.4" class="t" text-anchor="start" textLength="19" lengthAdjust="spacingAndGlyphs" >25'</text>
<text x="1251.6" y="570.6" font-size="13.4" class="t" text-anchor="start" textLength="19" lengthAdjust="spacingAndGlyphs" >30'</text>
<text x="1002.5" y="580.8" font-size="14" class="t" text-anchor="start" textLength="18.3" lengthAdjust="spacingAndGlyphs" >21'</text>
<text x="560" y="320.9" font-size="15" class="t" text-anchor="start" textLength="110" lengthAdjust="spacingAndGlyphs" >POOL (OPTION)</text>
<text x="587.5" y="350" font-size="15" class="t" text-anchor="start" textLength="46.7" lengthAdjust="spacingAndGlyphs" >35' x 6'</text>
<text x="590.8" y="272.6" font-size="7" class="tg" text-anchor="start" textLength="32.5" lengthAdjust="spacingAndGlyphs" >JACUZZI</text>
<text transform="translate(496.7,317.6) rotate(-90)" x="-5.5" y="5.37" font-size="15" class="t" textLength="11" lengthAdjust="spacingAndGlyphs">3'</text>
<text transform="translate(496.7,344.2) rotate(-90)" x="-5.5" y="5.37" font-size="15" class="t" textLength="11" lengthAdjust="spacingAndGlyphs">3'</text>
<text transform="translate(485.8,296.8) rotate(-90)" x="-3.8" y="3.76" font-size="10.5" class="tb" textLength="7.6" lengthAdjust="spacingAndGlyphs">1'</text>
<text transform="translate(474.4,361) rotate(-90)" x="-3.8" y="3.76" font-size="10.5" class="tb" textLength="7.6" lengthAdjust="spacingAndGlyphs">1'</text>
<line x1="482.6" y1="292.2" x2="482.6" y2="297" class="lnd"/>
<line x1="471.2" y1="362.6" x2="471.2" y2="367" class="lnd"/>
<text x="813.2" y="801.6" font-size="17.6" class="t" textLength="140.5" lengthAdjust="spacingAndGlyphs">1<tspan font-size="10.21" dy="-7.39">st</tspan><tspan dy="7.39"> floor: 770 sq.ft.</tspan></text>
<text x="809" y="821.8" font-size="17.6" class="t" textLength="159.3" lengthAdjust="spacingAndGlyphs">2<tspan font-size="10.21" dy="-7.39">nd</tspan><tspan dy="7.39"> floor: 3,140 sq.ft.</tspan></text>
<text x="831.3" y="843.4" font-size="17.6" class="tb" text-anchor="start" textLength="140" lengthAdjust="spacingAndGlyphs" >total: 3,910 sq.ft.</text>
<text x="830.7" y="866.8" font-size="17.2" class="t" text-anchor="start" textLength="181.6" lengthAdjust="spacingAndGlyphs" >patio: 120 (240/2) sq.ft.</text>
<text x="815" y="886" font-size="15.6" class="t" text-anchor="start" textLength="213" lengthAdjust="spacingAndGlyphs" >garage: 515 (1,030/2) sq.ft.</text>
<text x="831.3" y="905" font-size="17.6" class="tb" text-anchor="start" textLength="140" lengthAdjust="spacingAndGlyphs" >total: 4,545 sq.ft.</text>
<rect x="630.6" y="810" width="118.6" height="32.4" class="lnl" />
<text x="643" y="831.8" font-size="15.2" fill="#484848" textLength="95" lengthAdjust="spacingAndGlyphs">1<tspan font-size="8.4" dy="-6">st</tspan><tspan dy="6"> Floor (45.1)</tspan></text>
<text x="639" y="867.7" font-size="18" class="tb" text-anchor="start" textLength="97.3" lengthAdjust="spacingAndGlyphs" >Port Richey</text>
<text x="1463.6" y="608.2" font-size="21" font-weight="bold" fill="#e9e9e9" stroke="#f4f4f4" stroke-width=".8" textLength="90" lengthAdjust="spacingAndGlyphs">StellarMLS</text>
</g>
</svg>
</body></html>
